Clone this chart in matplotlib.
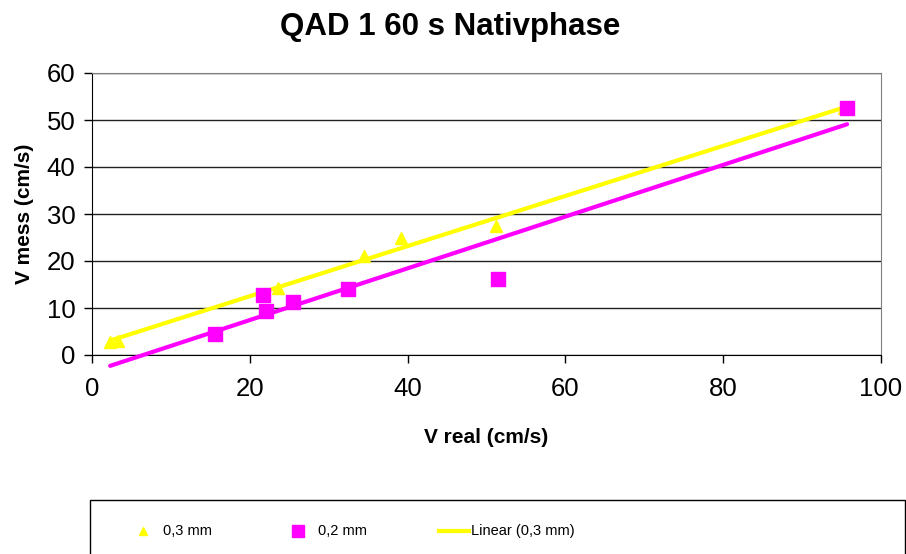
import numpy as np
import matplotlib.pyplot as plt
from matplotlib.lines import Line2D
from matplotlib.patches import Rectangle

plt.rcParams['font.family'] = ['Liberation Sans', 'DejaVu Sans']

# measurements, 0,3 mm probe
x_03 = [2.3, 3.3, 23.6, 34.5, 39.2, 51.2, 95.3]
y_03 = [2.8, 3.0, 14.3, 21.1, 24.8, 27.4, 52.5]
# measurements, 0,2 mm probe
x_02 = [15.6, 21.7, 22.0, 25.5, 32.5, 51.4, 95.7]
y_02 = [4.4, 12.8, 9.4, 11.3, 14.0, 16.1, 52.5]

legend_labels = ['0,3 mm', '0,2 mm', 'Linear (0,3 mm)']
yellow = '#FFFF00'
magenta = '#FF00FF'

fig = plt.figure(figsize=(9.06, 5.54), dpi=100)
ax = fig.add_axes([92/906, 199/554, 789/906, 282/554])

# linear trends over the full x range
xs = np.array([min(x_03 + x_02), max(x_03 + x_02)])
k3, d3 = np.polyfit(x_03, y_03, 1)
k2, d2 = np.polyfit(x_02, y_02, 1)
ax.plot(xs, k3*xs + d3, color=yellow, lw=3, solid_capstyle='round', zorder=3, clip_on=False)
ax.plot(xs, k2*xs + d2, color=magenta, lw=3, solid_capstyle='round', zorder=3, clip_on=False)

ax.plot(x_03, y_03, ls='none', marker='^', ms=8, color=yellow, zorder=4)
ax.plot(x_02, y_02, ls='none', marker='s', ms=10, color=magenta, zorder=5)

ax.set_xlim(0, 100)
ax.set_ylim(0, 60)
ax.set_xticks(range(0, 101, 20))
ax.set_yticks(range(0, 61, 10))
ax.yaxis.grid(True, color='#222222', lw=1)
ax.set_axisbelow(True)
ax.tick_params(labelsize=18.5, length=6, width=1, direction='out')
ax.tick_params(axis='x', pad=10)
ax.tick_params(axis='y', pad=6)
for s in ['top', 'right']:
    ax.spines[s].set_color('#808080')
for s in ['left', 'bottom']:
    ax.spines[s].set_color('black')

ax.set_xlabel('V real (cm/s)', fontsize=15, fontweight='bold', labelpad=19)
ax.set_ylabel('V mess (cm/s)', fontsize=15, fontweight='bold', labelpad=9)
fig.text(0.497, 1 - 27/554, 'QAD 1 60 s Nativphase', fontsize=22.5,
         fontweight='bold', ha='center', va='center')

# legend box runs past the figure edge
fig.add_artist(Rectangle((90/906, -10/554), 815/906, 64/554, transform=fig.transFigure,
                         fill=False, ec='black', lw=1, clip_on=False))
ly = 1 - 531/554
fig.add_artist(Line2D([143/906], [ly], marker='^', ms=6, color=yellow, ls='none',
                      transform=fig.transFigure))
fig.add_artist(Line2D([298/906], [ly], marker='s', ms=8, color=magenta, ls='none',
                      transform=fig.transFigure))
fig.add_artist(Line2D([439/906, 469/906], [ly, ly], color=yellow, lw=3,
                      transform=fig.transFigure))
for xp, lab in zip([163, 318, 471], legend_labels):
    fig.text(xp/906, ly, lab, fontsize=10.5, ha='left', va='center')

fig.savefig('out.png', dpi=100)
